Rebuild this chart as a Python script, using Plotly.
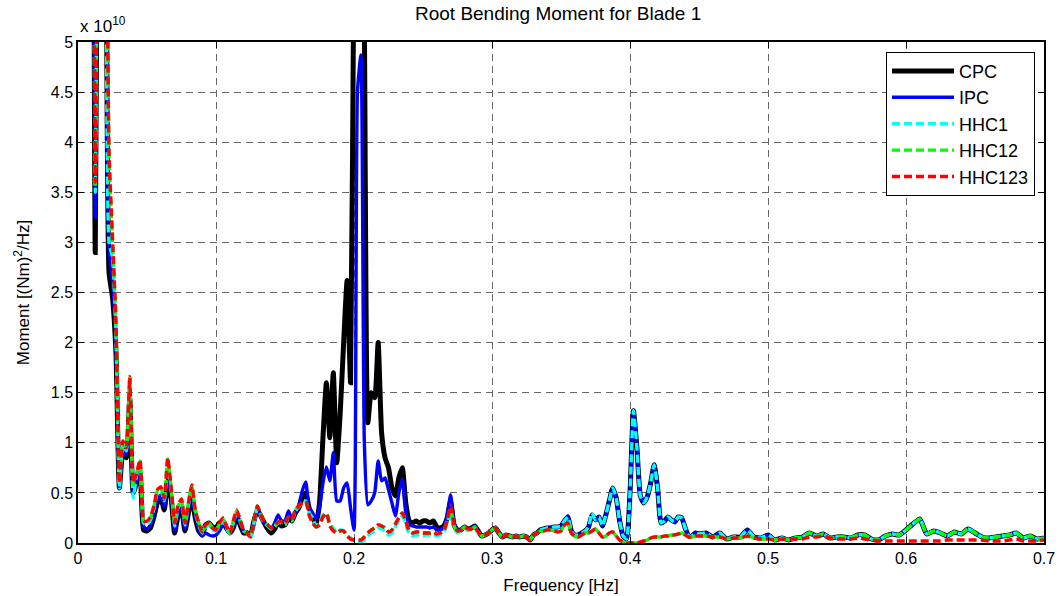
import numpy as np
import plotly.graph_objects as go

# Frequency grid [Hz]: fine spacing up to 0.45 Hz, coarser spacing above
freq_fine = np.round(np.arange(0.0, 0.45 + 1e-9, 0.0025), 4)
freq_coarse = np.round(np.arange(0.455, 0.7 + 1e-9, 0.005), 4)
freq = np.concatenate([freq_fine, freq_coarse])

# Root bending moment PSD, in units of 1e10 (Nm)^2/Hz
cpc_fine = [
    30, 28, 25, 20, 12.5, 2.9, 9, 15, 8, 2.7,
    2.45, 1.9, 0.55, 0.9, 0.85, 1.45, 0.5, 0.6, 0.7, 0.13,
    0.12, 0.15, 0.26, 0.4, 0.45, 0.33, 0.6, 0.45, 0.1, 0.27,
    0.33, 0.12, 0.3, 0.45, 0.25, 0.12, 0.08, 0.18, 0.2, 0.16,
    0.15, 0.2, 0.22, 0.15, 0.1, 0.15, 0.27, 0.18, 0.1, 0.1,
    0.08, 0.22, 0.33, 0.27, 0.2, 0.14, 0.1, 0.14, 0.2, 0.17,
    0.18, 0.25, 0.22, 0.3, 0.35, 0.45, 0.5, 0.35, 0.27, 0.18,
    0.4, 1.05, 1.6, 1.05, 1.7, 0.8, 1.3, 2.0, 2.62, 1.6,
    6, 8, 8, 5.2, 1.2, 1.5, 1.45, 2.0, 1.1, 0.85,
    0.75, 0.55, 0.47, 0.65, 0.75, 0.4, 0.22, 0.2, 0.22, 0.2,
    0.22, 0.22, 0.2, 0.22, 0.16, 0.15, 0.17, 0.25, 0.42, 0.18,
    0.13, 0.13, 0.16, 0.14, 0.15, 0.17, 0.12, 0.07, 0.08, 0.1,
    0.13, 0.15, 0.1, 0.06, 0.08, 0.07, 0.06, 0.07, 0.06, 0.07,
    0.06, 0.03, 0.08, 0.1, 0.13, 0.14, 0.15, 0.15, 0.16, 0.16,
    0.17, 0.22, 0.26, 0.12, 0.08, 0.08, 0.1, 0.12, 0.16, 0.28,
    0.23, 0.26, 0.17, 0.28, 0.42, 0.55, 0.45, 0.22, 0.07, 0.04,
    0.5, 1.32, 0.95, 0.47, 0.4, 0.46, 0.6, 0.78, 0.55, 0.2,
    0.22, 0.26, 0.23, 0.21, 0.26, 0.25, 0.15, 0.07, 0.07, 0.1,
    0.09,
]
cpc_coarse = [
    0.1, 0.06, 0.1, 0.04, 0.06, 0.06, 0.13, 0.06, 0.05, 0.08,
    0.03, 0.05, 0.03, 0.05, 0.06, 0.1, 0.07, 0.09, 0.05, 0.06,
    0.06, 0.05, 0.08, 0.08, 0.04, 0.03, 0.07, 0.09, 0.08, 0.13,
    0.19, 0.24, 0.09, 0.12, 0.1, 0.07, 0.11, 0.09, 0.14, 0.1,
    0.06, 0.05, 0.06, 0.07, 0.08, 0.1, 0.05, 0.07, 0.04, 0.05,
]

ipc_fine = [
    30, 28, 25, 20, 12.5, 3.25, 9, 15, 8, 2.95,
    2.6, 2.0, 0.55, 0.95, 0.88, 1.5, 0.5, 0.62, 0.72, 0.16,
    0.14, 0.18, 0.29, 0.43, 0.48, 0.36, 0.64, 0.48, 0.12, 0.3,
    0.36, 0.14, 0.33, 0.5, 0.28, 0.14, 0.07, 0.1, 0.08, 0.07,
    0.08, 0.12, 0.18, 0.14, 0.1, 0.17, 0.28, 0.2, 0.12, 0.11,
    0.07, 0.2, 0.33, 0.27, 0.2, 0.17, 0.14, 0.2, 0.28, 0.22,
    0.22, 0.32, 0.24, 0.3, 0.38, 0.52, 0.61, 0.35, 0.3, 0.24,
    0.35, 0.6, 0.76, 0.62, 0.9, 0.42, 0.42, 0.55, 0.6, 0.35,
    0.13, 4.5, 4.87, 1.0, 0.38, 0.42, 0.5, 0.82, 0.62, 0.65,
    0.53, 0.4, 0.27, 0.5, 0.64, 0.3, 0.18, 0.17, 0.16, 0.16,
    0.16, 0.16, 0.15, 0.16, 0.13, 0.13, 0.15, 0.27, 0.48, 0.2,
    0.13, 0.13, 0.16, 0.14, 0.15, 0.17, 0.12, 0.07, 0.08, 0.1,
    0.13, 0.15, 0.1, 0.06, 0.08, 0.07, 0.06, 0.07, 0.06, 0.07,
    0.06, 0.03, 0.08, 0.1, 0.13, 0.14, 0.15, 0.15, 0.16, 0.16,
    0.17, 0.22, 0.27, 0.12, 0.08, 0.08, 0.1, 0.12, 0.16, 0.28,
    0.23, 0.26, 0.17, 0.28, 0.42, 0.55, 0.45, 0.22, 0.07, 0.04,
    0.5, 1.32, 0.95, 0.47, 0.4, 0.46, 0.6, 0.78, 0.55, 0.2,
    0.22, 0.26, 0.23, 0.21, 0.26, 0.25, 0.15, 0.07, 0.07, 0.1,
    0.09,
]
ipc_coarse = [
    0.1, 0.06, 0.1, 0.04, 0.06, 0.06, 0.13, 0.06, 0.05, 0.08,
    0.03, 0.05, 0.03, 0.05, 0.06, 0.1, 0.07, 0.09, 0.05, 0.06,
    0.06, 0.05, 0.08, 0.08, 0.04, 0.03, 0.07, 0.09, 0.08, 0.13,
    0.19, 0.24, 0.09, 0.12, 0.1, 0.07, 0.11, 0.09, 0.14, 0.1,
    0.06, 0.05, 0.06, 0.07, 0.08, 0.1, 0.05, 0.07, 0.04, 0.05,
]

hhc1_fine = [
    30, 28, 25, 20, 12.5, 3.5, 9, 15, 8, 3.0,
    2.85, 2.1, 0.55, 0.98, 0.92, 1.6, 0.45, 0.68, 0.8, 0.2,
    0.18, 0.23, 0.34, 0.5, 0.53, 0.42, 0.8, 0.53, 0.17, 0.35,
    0.41, 0.18, 0.38, 0.55, 0.31, 0.18, 0.1, 0.16, 0.18, 0.13,
    0.12, 0.17, 0.22, 0.15, 0.09, 0.2, 0.3, 0.22, 0.12, 0.1,
    0.05, 0.2, 0.35, 0.27, 0.2, 0.17, 0.14, 0.16, 0.2, 0.2,
    0.18, 0.25, 0.22, 0.32, 0.36, 0.4, 0.42, 0.3, 0.25, 0.17,
    0.2, 0.28, 0.3, 0.2, 0.15, 0.1, 0.13, 0.12, 0.08, 0.05,
    0.03, 0.01, 0.01, 0.03, 0.07, 0.1, 0.12, 0.15, 0.14, 0.12,
    0.08, 0.1, 0.16, 0.22, 0.27, 0.19, 0.09, 0.07, 0.08, 0.08,
    0.07, 0.08, 0.08, 0.09, 0.07, 0.08, 0.1, 0.2, 0.3, 0.15,
    0.1, 0.12, 0.15, 0.13, 0.14, 0.15, 0.1, 0.07, 0.08, 0.1,
    0.13, 0.15, 0.1, 0.06, 0.08, 0.07, 0.06, 0.07, 0.06, 0.07,
    0.06, 0.03, 0.08, 0.1, 0.13, 0.14, 0.15, 0.15, 0.16, 0.16,
    0.17, 0.22, 0.26, 0.12, 0.08, 0.08, 0.1, 0.12, 0.16, 0.3,
    0.23, 0.26, 0.17, 0.28, 0.42, 0.55, 0.45, 0.22, 0.07, 0.04,
    0.5, 1.32, 0.95, 0.47, 0.4, 0.46, 0.6, 0.78, 0.55, 0.2,
    0.22, 0.26, 0.23, 0.21, 0.26, 0.25, 0.15, 0.07, 0.07, 0.1,
    0.09,
]
hhc1_coarse = [
    0.1, 0.06, 0.1, 0.04, 0.06, 0.06, 0.13, 0.06, 0.05, 0.08,
    0.03, 0.05, 0.03, 0.05, 0.06, 0.1, 0.07, 0.09, 0.05, 0.06,
    0.06, 0.05, 0.08, 0.08, 0.04, 0.03, 0.07, 0.09, 0.08, 0.13,
    0.19, 0.24, 0.09, 0.12, 0.1, 0.07, 0.11, 0.09, 0.14, 0.1,
    0.06, 0.05, 0.06, 0.07, 0.08, 0.1, 0.05, 0.07, 0.04, 0.05,
]

hhc12_fine = [
    30, 28, 25, 20, 12.5, 3.55, 9, 15, 8, 3.85,
    3.0, 2.2, 0.6, 1.0, 0.95, 1.65, 0.58, 0.7, 0.82, 0.22,
    0.21, 0.25, 0.36, 0.52, 0.56, 0.44, 0.84, 0.55, 0.19, 0.37,
    0.43, 0.2, 0.4, 0.57, 0.33, 0.2, 0.11, 0.18, 0.2, 0.15,
    0.13, 0.19, 0.24, 0.17, 0.1, 0.22, 0.32, 0.23, 0.13, 0.1,
    0.06, 0.22, 0.37, 0.28, 0.21, 0.18, 0.15, 0.17, 0.21, 0.21,
    0.19, 0.26, 0.23, 0.33, 0.37, 0.4, 0.41, 0.28, 0.2, 0.16,
    0.18, 0.26, 0.3, 0.18, 0.13, 0.1, 0.12, 0.12, 0.07, 0.04,
    0.03, 0.03, 0.03, 0.06, 0.1, 0.13, 0.15, 0.18, 0.17, 0.15,
    0.11, 0.13, 0.19, 0.25, 0.3, 0.22, 0.12, 0.1, 0.11, 0.11,
    0.1, 0.1, 0.1, 0.11, 0.09, 0.1, 0.12, 0.22, 0.34, 0.17,
    0.11, 0.13, 0.16, 0.14, 0.14, 0.16, 0.11, 0.07, 0.08, 0.1,
    0.13, 0.15, 0.1, 0.06, 0.08, 0.07, 0.06, 0.07, 0.06, 0.07,
    0.06, 0.03, 0.08, 0.1, 0.12, 0.12, 0.13, 0.13, 0.12, 0.11,
    0.12, 0.18, 0.2, 0.1, 0.07, 0.06, 0.08, 0.1, 0.1, 0.12,
    0.14, 0.1, 0.06, 0.07, 0.1, 0.11, 0.07, 0.03, 0.01, 0.0,
    0.0, 0.0, 0.0, 0.01, 0.02, 0.03, 0.05, 0.06, 0.06, 0.06,
    0.07, 0.07, 0.08, 0.08, 0.09, 0.1, 0.08, 0.06, 0.06, 0.07,
    0.07,
]
hhc12_coarse = [
    0.07, 0.06, 0.06, 0.04, 0.05, 0.05, 0.07, 0.05, 0.04, 0.04,
    0.03, 0.05, 0.03, 0.05, 0.06, 0.1, 0.07, 0.09, 0.05, 0.06,
    0.06, 0.05, 0.08, 0.08, 0.04, 0.03, 0.07, 0.09, 0.08, 0.13,
    0.19, 0.24, 0.09, 0.12, 0.1, 0.07, 0.11, 0.09, 0.14, 0.1,
    0.06, 0.05, 0.06, 0.07, 0.08, 0.1, 0.05, 0.07, 0.04, 0.05,
]

hhc123_fine = [
    30, 28, 25, 20, 12.5, 3.6, 9, 15, 8, 3.9,
    3.05, 2.2, 0.6, 1.02, 0.95, 1.66, 0.6, 0.7, 0.83, 0.22,
    0.22, 0.26, 0.37, 0.53, 0.56, 0.45, 0.85, 0.56, 0.2, 0.38,
    0.44, 0.2, 0.4, 0.58, 0.33, 0.2, 0.11, 0.18, 0.2, 0.15,
    0.13, 0.2, 0.25, 0.17, 0.1, 0.22, 0.33, 0.23, 0.13, 0.1,
    0.06, 0.22, 0.37, 0.28, 0.21, 0.18, 0.15, 0.17, 0.21, 0.21,
    0.19, 0.26, 0.23, 0.33, 0.37, 0.4, 0.42, 0.28, 0.2, 0.16,
    0.18, 0.26, 0.3, 0.17, 0.12, 0.1, 0.12, 0.12, 0.07, 0.04,
    0.03, 0.03, 0.03, 0.06, 0.1, 0.13, 0.15, 0.18, 0.17, 0.15,
    0.11, 0.13, 0.19, 0.25, 0.3, 0.22, 0.12, 0.1, 0.11, 0.11,
    0.1, 0.1, 0.1, 0.11, 0.09, 0.1, 0.12, 0.22, 0.37, 0.18,
    0.12, 0.13, 0.16, 0.14, 0.14, 0.16, 0.11, 0.07, 0.08, 0.1,
    0.13, 0.15, 0.1, 0.06, 0.08, 0.07, 0.06, 0.07, 0.06, 0.07,
    0.06, 0.03, 0.08, 0.1, 0.12, 0.12, 0.13, 0.13, 0.12, 0.11,
    0.12, 0.18, 0.2, 0.1, 0.07, 0.06, 0.08, 0.1, 0.1, 0.12,
    0.14, 0.1, 0.06, 0.07, 0.1, 0.11, 0.07, 0.03, 0.01, 0.0,
    0.0, 0.0, 0.0, 0.01, 0.02, 0.03, 0.05, 0.06, 0.06, 0.06,
    0.07, 0.07, 0.08, 0.08, 0.09, 0.1, 0.08, 0.06, 0.06, 0.07,
    0.07,
]
hhc123_coarse = [
    0.07, 0.06, 0.06, 0.04, 0.05, 0.05, 0.07, 0.05, 0.04, 0.04,
    0.03, 0.04, 0.04, 0.04, 0.04, 0.06, 0.06, 0.07, 0.05, 0.04,
    0.04, 0.04, 0.05, 0.04, 0.03, 0.02, 0.02, 0.02, 0.02, 0.02,
    0.02, 0.02, 0.02, 0.02, 0.02, 0.03, 0.03, 0.03, 0.03, 0.03,
    0.03, 0.02, 0.02, 0.02, 0.03, 0.04, 0.02, 0.02, 0.02, 0.03,
]

series = [
    ("CPC", cpc_fine + cpc_coarse, "#000000", 5.0, "solid"),
    ("IPC", ipc_fine + ipc_coarse, "#0000FF", 3.4, "solid"),
    ("HHC1", hhc1_fine + hhc1_coarse, "#00FFFF", 3.4, "8px,4px"),
    ("HHC12", hhc12_fine + hhc12_coarse, "#00FF00", 3.4, "8px,4px"),
    ("HHC123", hhc123_fine + hhc123_coarse, "#FF0000", 3.4, "8px,4px"),
]

FONT = "Liberation Sans, Arial, Helvetica, sans-serif"

fig = go.Figure()
for name, vals, color, width, dash in series:
    fig.add_trace(go.Scatter(
        x=freq, y=vals, name=name, mode="lines",
        line=dict(color=color, width=width, dash=dash,
                  shape="spline", smoothing=0.5),
    ))

axis_common = dict(
    showgrid=True, gridcolor="#666666", gridwidth=1.3, griddash="7px,5px",
    showline=True, linecolor="#000000", linewidth=1.5, mirror="ticks",
    ticks="inside", ticklen=6, tickcolor="#000000", tickwidth=1,
    zeroline=False, automargin=False,
    tickfont=dict(family=FONT, size=16, color="#000000"),
)

fig.update_layout(
    width=1059, height=596,
    margin=dict(l=78, r=15, t=42, b=53),
    paper_bgcolor="#FFFFFF", plot_bgcolor="#FFFFFF",
    font=dict(family=FONT, color="#000000"),
    title=dict(text="Root Bending Moment for Blade 1", x=0.527, xanchor="center",
               y=0.977, yanchor="middle", font=dict(family=FONT, size=19)),
    xaxis=dict(range=[0, 0.7], tick0=0, dtick=0.1,
               title=dict(text="Frequency [Hz]", standoff=13,
                          font=dict(family=FONT, size=17)),
               **axis_common),
    yaxis=dict(range=[0, 5], tick0=0, dtick=0.5,
               title=dict(text="Moment [(Nm)<sup>2</sup>/Hz]", standoff=17,
                          font=dict(family=FONT, size=17)),
               **axis_common),
    legend=dict(x=0.9907, xanchor="right", y=0.9806, yanchor="top",
                bgcolor="#FFFFFF", bordercolor="#000000", borderwidth=1,
                font=dict(family=FONT, size=18), itemwidth=62,
                tracegroupgap=0),
    showlegend=True,
    annotations=[dict(text="x 10<sup>10</sup>", xref="paper", yref="paper",
                      x=0, y=1, xanchor="left", yanchor="bottom", yshift=4,
                      showarrow=False, font=dict(family=FONT, size=17))],
)

fig.write_html("out.html")
